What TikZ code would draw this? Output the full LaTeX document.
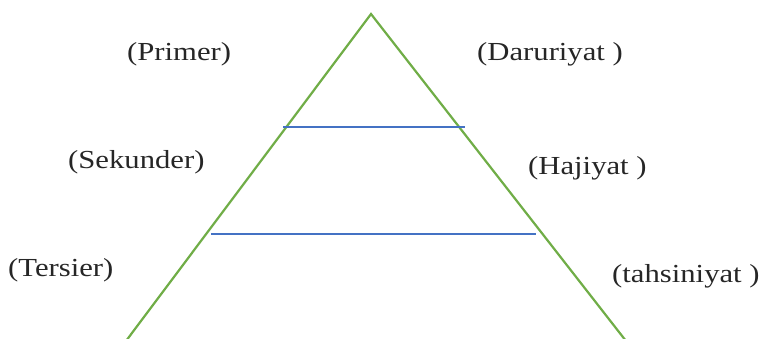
\documentclass[tikz,border=0pt]{standalone}
\usepackage{fontspec}
\setmainfont{Liberation Serif}[FakeStretch=1.18]
\definecolor{pgreen}{HTML}{70AD47}
\definecolor{pblue}{HTML}{4472C4}
\begin{document}
\begin{tikzpicture}[x=1pt,y=-1pt,
  lbl/.style={anchor=base west,inner sep=0pt,font=\fontsize{26}{30}\selectfont,text=black!85},
  side/.style={draw=pgreen,line width=2.2pt,line cap=round},
  level/.style={draw=pblue,line width=1.1pt}]
\useasboundingbox (0,0) rectangle (767,339);
\clip (0,0) rectangle (767,339);
\coordinate (apex) at (371,14);
\coordinate (bl) at (126,341);
\coordinate (br) at (626,341);
\coordinate (l1a) at (283,127);
\coordinate (l1b) at (465,127);
\coordinate (l2a) at (211,234);
\coordinate (l2b) at (536,234);
\draw[side] (bl) -- (apex) -- (br);
\draw[level] (l1a) -- (l1b);
\draw[level] (l2a) -- (l2b);
\node[lbl] (primer) at (127,61) {(Primer)};
\node[lbl] (daru) at (477,61) {(Daruriyat )};
\node[lbl] (sek) at (68,168) {(Sekunder)};
\node[lbl] (haji) at (528,174) {(Hajiyat )};
\node[lbl] (ters) at (8,276) {(Tersier)};
\node[lbl] (tahs) at (612,282) {(tahsiniyat )};
\end{tikzpicture}
\end{document}
